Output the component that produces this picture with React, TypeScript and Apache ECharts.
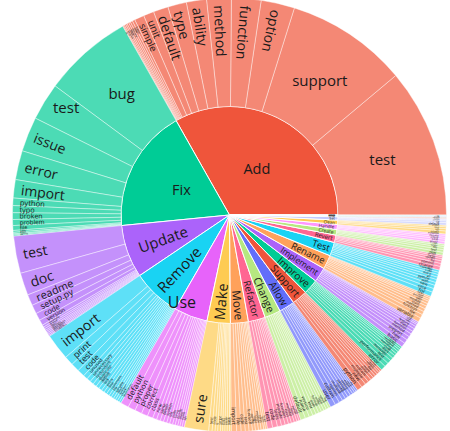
import React, { useEffect, useRef } from 'react';
import * as echarts from 'echarts';

// ---- data: verbs (inner ring) and their objects (outer ring) ----
const VERBS = ['Add', 'Fix', 'Update', 'Remove', 'Use', 'Make', 'Move', 'Refactor', 'Change', 'Allow', 'Support', 'Improve', 'Implement', 'Rename', 'Test', 'Revert', 'Create', 'Handle', 'Clean', 'Set', 'Bump', 'Merge', 'Delete', 'Drop', 'Enable'];

const ADD_N = ['test', 'support', 'option', 'function', 'method', 'ability', 'type', 'default', 'unit', 'simple', 'basic', 'new', 'missing', 'more', 'check', 'example', 'script', 'file'];
const ADD_C = [400, 326, 90, 79, 66, 54, 50, 40, 28, 26, 7, 6, 5, 5, 4, 4, 3, 2];
const FIX_N = ['bug', 'test', 'issue', 'error', 'import', 'python', 'typo', 'broken', 'problem', 'file', 'path', 'crash', 'warning', 'lint'];
const FIX_C = [240, 100, 93, 78, 49, 20, 19, 18, 16, 13, 5, 4, 3, 3];
const UPDATE_N = ['test', 'doc', 'readme', 'setup.py', 'code', 'version', 'example', 'license', 'docs', 'comment', 'requirements', 'dependency', 'changelog', 'documentation'];
const UPDATE_C = [100, 60, 30, 24, 20, 15, 6, 5, 5, 4, 4, 4, 4, 3];
const REMOVE_N = ['import', 'print', 'test', 'code', 'unused', 'unnecessary', 'redundant', 'duplicate', 'debug', 'old', 'extra', 'line', 'comment', 'file', 'variable', 'dead', 'function', 'check', 'dependency'];
const REMOVE_C = [70, 25, 23, 20, 12, 11, 10, 10, 9, 9, 8, 8, 8, 7, 7, 6, 6, 6, 5];
const USE_N = ['default', 'python', 'proper', 'correct', 'class', 'new', 'same', 'better', 'system', 'list', 'path', 'string', 'format', 'latest', 'name', 'api'];
const USE_C = [22, 20, 19, 17, 15, 11, 10, 9, 9, 8, 8, 7, 7, 6, 6, 6];
const MAKE_N = ['sure', 'test', 'code', 'it', 'script', 'work', 'build', 'easier', 'more', 'output'];
const MAKE_C = [65, 9, 8, 7, 7, 6, 6, 6, 6, 5];
const MOVE_N = ['import', 'file', 'code', 'test', 'function', 'config', 'logic', 'module', 'class', 'docs', 'script'];
const MOVE_C = [14, 12, 11, 10, 9, 8, 8, 7, 7, 5, 5];
const REFACTOR_N = ['test', 'code', 'tests', 'module', 'function', 'class', 'method', 'logic', 'parser', 'utils'];
const REFACTOR_C = [14, 13, 11, 10, 9, 8, 8, 7, 6, 5];
const CHANGE_N = ['default', 'name', 'version', 'test', 'path', 'format', 'order', 'type', 'value', 'log'];
const CHANGE_C = [13, 11, 10, 9, 8, 8, 7, 7, 7, 6];
const ALLOW_N = ['user', 'custom', 'option', 'multiple', 'config', 'passing', 'setting', 'empty', 'none', 'file'];
const ALLOW_C = [14, 12, 10, 9, 8, 8, 7, 6, 5, 5];
const SUPPORT_N = ['python', 'new', 'multiple', 'custom', 'other', 'more', 'file', 'option', 'async', 'format'];
const SUPPORT_C = [14, 12, 10, 9, 8, 7, 7, 6, 5, 5];
const IMPROVE_N = ['error', 'performance', 'test', 'message', 'docs', 'code', 'handling', 'output', 'readability', 'speed'];
const IMPROVE_C = [13, 11, 10, 9, 8, 7, 7, 6, 5, 5];
const IMPLEMENT_N = ['basic', 'new', 'support', 'method', 'function', 'class', 'feature', 'test', 'logic', 'api'];
const IMPLEMENT_C = [12, 11, 10, 9, 8, 8, 7, 6, 4, 4];
const RENAME_N = ['variable', 'file', 'function', 'method', 'class', 'module', 'test', 'package', 'field', 'param'];
const RENAME_C = [12, 10, 9, 8, 8, 7, 7, 5, 5, 4];
const TEST_N = ['for', 'case', 'new', 'with', 'python', 'all', 'more', 'code', 'coverage'];
const TEST_C = [12, 10, 9, 8, 8, 7, 7, 6, 6];
const REVERT_N = ['change', 'commit', 'fix', 'update', 'merge', 'version'];
const REVERT_C = [10, 8, 7, 6, 5, 4];
const CREATE_N = ['new', 'test', 'file', 'script', 'class'];
const CREATE_C = [8, 7, 6, 5, 4];
const HANDLE_N = ['error', 'case', 'empty', 'missing', 'exception'];
const HANDLE_C = [7, 6, 5, 5, 4];
const CLEAN_N = ['code', 'up', 'test', 'import'];
const CLEAN_C = [8, 6, 5, 4];
const SET_N = ['default', 'up', 'version', 'value'];
const SET_C = [7, 5, 3, 3];
const BUMP_N = ['version'];
const BUMP_C = [3];
const MERGE_N = ['branch'];
const MERGE_C = [2];
const DELETE_N = ['file'];
const DELETE_C = [2];
const DROP_N = ['support'];
const DROP_C = [1];
const ENABLE_N = ['test'];
const ENABLE_C = [1];

const NOUNS = [ADD_N, FIX_N, UPDATE_N, REMOVE_N, USE_N, MAKE_N, MOVE_N, REFACTOR_N, CHANGE_N, ALLOW_N, SUPPORT_N, IMPROVE_N, IMPLEMENT_N, RENAME_N, TEST_N, REVERT_N, CREATE_N, HANDLE_N, CLEAN_N, SET_N, BUMP_N, MERGE_N, DELETE_N, DROP_N, ENABLE_N];
const COUNTS = [ADD_C, FIX_C, UPDATE_C, REMOVE_C, USE_C, MAKE_C, MOVE_C, REFACTOR_C, CHANGE_C, ALLOW_C, SUPPORT_C, IMPROVE_C, IMPLEMENT_C, RENAME_C, TEST_C, REVERT_C, CREATE_C, HANDLE_C, CLEAN_C, SET_C, BUMP_C, MERGE_C, DELETE_C, DROP_C, ENABLE_C];

// ---- styling ----
const PALETTE = ['#EF553B', '#00CC96', '#AB63FA', '#19D3F3', '#E763FA', '#FECB52', '#FFA15A', '#FF6692', '#B6E880', '#636EFA', '#EF553B', '#00CC96', '#AB63FA', '#FFA15A', '#19D3F3', '#FF6692', '#B6E880', '#FF97FF', '#FECB52', '#C4C9FC', '#F7A99B', '#7FE5CA', '#D5B1FC', '#FFD0AC', '#8CE9F9'];
const FONT = '"Open Sans", verdana, arial, sans-serif';
const TEXT = '#1a1a1a';
const HORIZONTAL_LEAVES = ['Add/test', 'Add/support', 'Fix/bug'];
const HORIZONTAL_OUTER_LEAVES = ['Fix/test'];

function radialLabel(theta: number, fs: number, pad: number) {
  if (theta >= 60 && theta < 90) {
    return { rotate: theta - 180, position: 'outside', distance: -pad, fontSize: fs };
  }
  const flip = theta > 90 && theta < 270;
  return { rotate: flip ? theta - 180 : theta, position: 'inside', align: 'right', distance: pad, fontSize: fs };
}

function buildData() {
  let total = 0;
  COUNTS.forEach((arr) => arr.forEach((v) => (total += v)));
  let acc = 0;
  return VERBS.map((verb, i) => {
    const start = acc;
    const color = PALETTE[i];
    const children = NOUNS[i].map((noun, j) => {
      const v = COUNTS[i][j];
      const deg = (v / total) * 360;
      const mid = acc + deg / 2;
      acc += deg;
      const key = verb + '/' + noun;
      let label: any;
      if (HORIZONTAL_LEAVES.includes(key)) {
        label = { rotate: 0, align: 'center', position: 'inside', fontSize: 15 };
      } else if (HORIZONTAL_OUTER_LEAVES.includes(key)) {
        label = { rotate: 0, align: 'right', position: 'inside', distance: 10, fontSize: 15 };
      } else {
        const fs = Math.min(14, 1 + deg * 3.3, 100 / (0.55 * noun.length));
        label = radialLabel(mid, Math.max(1.5, fs), 7);
      }
      return { name: noun, value: v, label, itemStyle: { color, opacity: 0.7 } };
    });
    const pdeg = acc - start;
    const pmid = start + pdeg / 2;
    let label: any;
    if (verb === 'Add' || verb === 'Fix') {
      label = { rotate: 0, align: 'center', position: 'inside', fontSize: 14.5 };
    } else if (verb === 'Use') {
      label = { rotate: 0, position: 'outside', distance: -15, fontSize: 16 };
    } else {
      let fs = Math.min(15, 2 + pdeg);
      if (pdeg < 12) fs = Math.min(fs, 40 / (0.52 * verb.length));
      const pad = verb === 'Update' ? 12 : verb === 'Remove' ? 6 : 3;
      label = radialLabel(pmid, Math.max(1.5, fs), pad);
    }
    return { name: verb, itemStyle: { color }, label, children };
  });
}

export default function App() {
  const ref = useRef<HTMLDivElement>(null);
  useEffect(() => {
    if (!ref.current) return;
    const chart = echarts.init(ref.current, undefined, { renderer: 'svg' });
    chart.setOption({
      animation: false,
      backgroundColor: '#ffffff',
      series: [
        {
          type: 'sunburst',
          center: [229.5, 215],
          radius: [0, 217],
          startAngle: 0,
          clockwise: false,
          sort: null,
          nodeClick: false,
          emphasis: { disabled: true },
          data: buildData(),
          label: {
            color: TEXT,
            fontFamily: FONT,
            minAngle: 0,
          },
          itemStyle: { borderColor: '#ffffff', borderWidth: 1 },
          levels: [
            {},
            { itemStyle: { borderColor: '#ffffff', borderWidth: 1 } },
            { itemStyle: { opacity: 0.7, borderColor: '#ffffff', borderWidth: 0.6 } },
          ],
        },
      ],
    });
    return () => chart.dispose();
  }, []);
  return <div ref={ref} style={{ position: 'fixed', left: 0, top: 0, width: 450, height: 431 }} />;
}
